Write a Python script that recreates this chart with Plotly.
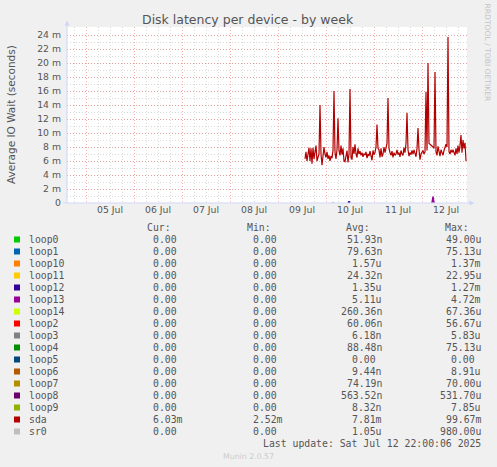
import pandas as pd
import plotly.graph_objects as go

# sda average IO wait, 30 min steps, in milliseconds
sda_start = "2025-07-09 13:30"
sda_ms = [
    6.3, 7.3, 6.0, 6.8, 7.9, 6.0, 7.8, 5.6, 7.9, 6.3,
    7.0, 8.2, 6.0, 6.5, 7.0, 14.0, 7.0, 5.4, 6.5, 8.0,
    7.0, 6.5, 7.3, 6.3, 6.8, 6.0, 6.7, 6.4, 7.5, 16.0,
    7.2, 6.3, 7.6, 12.1, 7.5, 6.8, 8.2, 6.9, 7.8, 6.0,
    5.9, 6.6, 7.5, 5.8, 7.0, 16.3, 6.5, 6.2, 8.0, 7.0,
    8.4, 7.0, 6.5, 7.8, 7.0, 7.4,
    6.8, 7.2, 6.6, 7.0, 6.9, 7.3, 6.4, 7.0, 6.7, 7.4,
    6.8, 6.1, 7.5, 6.9, 7.2, 8.0, 11.2, 7.8, 7.6, 6.5,
    7.8, 6.6, 7.0, 8.0, 7.2, 7.8, 8.5, 15.0, 7.8, 7.2,
    6.8, 7.4, 6.5, 7.2, 6.8, 7.0, 7.6, 6.9, 7.2, 6.6,
    7.5, 7.0, 6.8, 7.9, 7.2, 8.5, 12.9, 7.6, 6.7, 7.2,
    6.9, 7.5, 7.0, 7.6, 7.2, 6.6, 7.8,
    10.7, 7.6, 6.2, 7.0, 7.3, 7.5, 7.0, 7.3, 15.9, 7.5,
    20.0, 8.5, 8.4, 8.3, 8.2, 8.0, 7.8, 18.7, 7.3, 6.8,
    8.1, 7.0, 6.7, 7.6, 7.2, 6.8, 7.5, 7.9, 8.4, 8.0,
    23.7, 7.3, 7.0, 7.6, 7.2, 7.6, 7.0, 6.8, 7.8, 7.0,
    8.2, 7.2, 8.2, 9.7, 7.2, 9.0, 7.8, 8.6, 6.0,
]

# the few small blips of other devices that show above zero
loop12_t = ["2025-07-10 11:00", "2025-07-10 11:30", "2025-07-10 12:00"]
loop12_ms = [0.0, 0.25, 0.0]
loop13_t = ["2025-07-12 05:00", "2025-07-12 05:30", "2025-07-12 06:00"]
loop13_ms = [0.0, 0.9, 0.0]
sr0_t = ["2025-07-10 03:00", "2025-07-10 03:30", "2025-07-10 04:00"]
sr0_ms = [0.0, 0.1, 0.0]

# legend table
names = ["loop0", "loop1", "loop10", "loop11", "loop12", "loop13", "loop14", "loop2",
         "loop3", "loop4", "loop5", "loop6", "loop7", "loop8", "loop9", "sda", "sr0"]
colors = ["#00CC00", "#0066B3", "#FF8000", "#FFCC00", "#330099", "#990099", "#CCFF00", "#FF0000",
          "#808080", "#008F00", "#00487D", "#B35A00", "#B38F00", "#6B006B", "#8FB300", "#B30000", "#BEBEBE"]
cur = ["0.00"] * 15 + ["6.03m", "0.00"]
mins = ["0.00"] * 15 + ["2.52m", "0.00"]
avgs = ["51.93n", "79.63n", "1.57u", "24.32n", "1.35u", "5.11u", "260.36n", "60.06n", "6.18n",
        "88.48n", "0.00", "9.44n", "74.19n", "563.52n", "8.32n", "7.81m", "1.05u"]
maxs = ["49.00u", "75.13u", "1.37m", "22.95u", "1.27m", "4.72m", "67.36u", "56.67u", "5.83u",
        "75.13u", "0.00", "8.91u", "70.00u", "531.70u", "7.85u", "99.67m", "980.00u"]

ytick_labels = ["0", "2 m", "4 m", "6 m", "8 m", "10 m", "12 m", "14 m", "16 m",
                "18 m", "20 m", "22 m", "24 m"]
ytick_vals = [0.000, 0.002, 0.004, 0.006, 0.008, 0.010, 0.012, 0.014, 0.016,
              0.018, 0.020, 0.022, 0.024]

W, H = 497, 467
L, R, T, B = 67, 467, 27, 203
FONT = "DejaVu Sans"
MONO = "DejaVu Sans Mono"
AXIS = "#CFD6F8"
MAJOR = "rgba(235,110,110,0.55)"
MINOR = "rgba(150,150,150,0.35)"


def px(x):
    return (x - L) / (R - L)


def py(y):
    return (B - y) / (B - T)


fig = go.Figure()

sda_t = pd.date_range(sda_start, periods=len(sda_ms), freq="30min")
fig.add_trace(go.Scatter(x=sda_t, y=[v / 1000 for v in sda_ms], mode="lines",
                         line=dict(color="#B30000", width=1.2), name="sda"))
for t, v, c, n in [(sr0_t, sr0_ms, "#BEBEBE", "sr0"),
                   (loop12_t, loop12_ms, "#330099", "loop12"),
                   (loop13_t, loop13_ms, "#990099", "loop13")]:
    fig.add_trace(go.Scatter(x=pd.to_datetime(t), y=[a / 1000 for a in v], mode="lines",
                             line=dict(color=c, width=1.5), name=n))

fig.update_layout(
    width=W, height=H,
    margin=dict(l=L, r=W - R, t=T, b=H - B),
    paper_bgcolor="#F0F0F0", plot_bgcolor="#FFFFFF",
    showlegend=False,
    font=dict(family=FONT, size=9.3, color="#555555"),
)

fig.update_xaxes(
    range=["2025-07-04 14:30", "2025-07-12 22:30"],
    tick0="2025-07-05", dtick=86400000, tickformat="%d %b", ticklabelmode="period",
    showgrid=True, gridcolor=MAJOR, griddash="1px,2px", gridwidth=1,
    minor=dict(dtick=21600000, showgrid=True, gridcolor=MINOR,
               griddash="1px,2px", gridwidth=1),
    ticks="", zeroline=False, showline=False,
    tickfont=dict(size=9.3, color="#555555"),
)
fig.update_yaxes(
    range=[0, 0.176 / 7],
    tickvals=ytick_vals, ticktext=ytick_labels,
    showgrid=True, gridcolor=MAJOR, griddash="1px,2px", gridwidth=1,
    minor=dict(dtick=0.001, showgrid=True, gridcolor=MINOR,
               griddash="1px,2px", gridwidth=1),
    ticks="", zeroline=False, showline=False, ticklabelstandoff=5,
    tickfont=dict(size=9.3, color="#555555"),
)

# axis lines with arrows, like rrdtool draws them
shapes = [
    dict(type="line", x0=px(67), x1=px(67), y0=py(203), y1=py(24),
         line=dict(color=AXIS, width=1)),
    dict(type="line", x0=px(63), x1=px(471), y0=py(203), y1=py(203),
         line=dict(color=AXIS, width=1)),
    dict(type="path", path="M %f %f L %f %f L %f %f Z" % (px(64.5), py(25.5), px(69.5), py(25.5), px(67), py(20.5)),
         fillcolor=AXIS, line=dict(width=0)),
    dict(type="path", path="M %f %f L %f %f L %f %f Z" % (px(469.5), py(200.5), px(469.5), py(205.5), px(474.5), py(203)),
         fillcolor=AXIS, line=dict(width=0)),
]

ann = [
    dict(text="Disk latency per device - by week", x=px(248), y=py(20),
         font=dict(family=FONT, size=12.5, color="#555555")),
    dict(text="Average IO Wait (seconds)", x=px(11), y=py(114), textangle=-90,
         font=dict(family=FONT, size=10.5, color="#555555")),
    dict(text="RRDTOOL / TOBI OETIKER", x=px(487.5), y=py(53), textangle=90,
         font=dict(family=FONT, size=7.6, color="#C4C4C4")),
    dict(text="Munin 2.0.57", x=px(248), y=py(456),
         font=dict(family=FONT, size=7.8, color="#CCCCCC")),
]

mono = dict(family=MONO, size=9.8, color="#555555")
col_right = [184.5, 284.5, 383.5, 483]
for head, xr in zip(["Cur:", "Min:", "Avg:", "Max:"], col_right):
    ann.append(dict(text=head, x=px(xr - 11.8), y=py(227.5), xanchor="right", font=mono))


def pad(s):
    return s if not s[-1].isdigit() else s + "\u00a0"


for i, n in enumerate(names):
    yc = 239.5 + 12 * i
    shapes.append(dict(type="rect", x0=px(14), x1=px(20), y0=py(yc - 3), y1=py(yc + 3),
                       fillcolor=colors[i], line=dict(width=0)))
    ann.append(dict(text=n, x=px(27), y=py(yc), xanchor="left", font=mono))
    for vals, xr in zip([cur, mins, avgs, maxs], col_right):
        ann.append(dict(text=pad(vals[i]), x=px(xr), y=py(yc), xanchor="right", font=mono))

ann.append(dict(text="Last update: Sat Jul 12 22:00:06 2025", x=px(483), y=py(443.5),
                xanchor="right", font=mono))

for a in ann:
    a.setdefault("xanchor", "center")
    a.update(xref="paper", yref="paper", showarrow=False, yanchor="middle")

for s in shapes:
    s.update(xref="paper", yref="paper", layer="above")

fig.update_layout(annotations=ann, shapes=shapes)

fig.write_html("out.html", config={"displayModeBar": False},
               post_script="document.body.style.margin='0';")
